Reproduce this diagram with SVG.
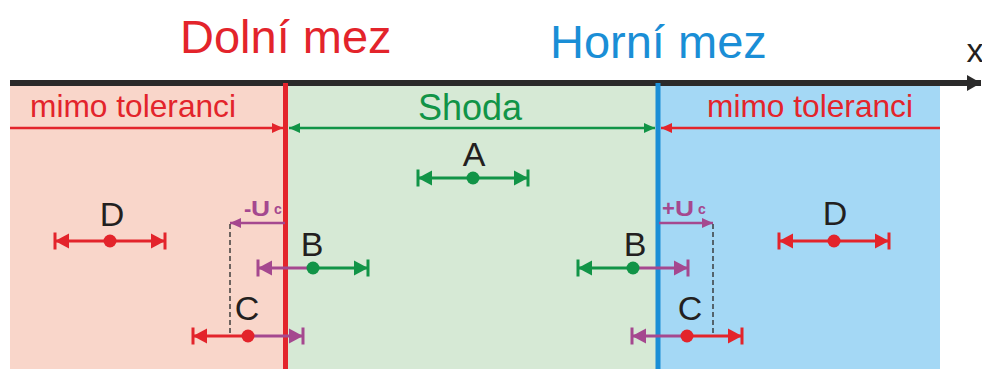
<svg xmlns="http://www.w3.org/2000/svg" width="982" height="369" viewBox="0 0 982 369">
  <style>
    text { font-family: "Liberation Sans", Arial, sans-serif; }
    .title { font-size: 47px; }
    .zone { font-size: 32px; fill: #e3242b; }
    .lbl { font-size: 34px; fill: #231f20; text-anchor: middle; }
    .unc { font-weight: bold; fill: #a5488f; font-size: 22px; }
    .sub { font-weight: bold; fill: #a5488f; font-size: 14px; }
    .bar { stroke-width: 3; fill: none; }
    .red { stroke: #e3242b; }
    .grn { stroke: #119447; }
    .pur { stroke: #a5488f; }
    .dash { stroke: #333; stroke-width: 1.4; stroke-dasharray: 5 3; fill: none; }
  </style>
  <defs>
    <!-- error-bar end: arrowhead with a stop bar at the tip -->
    <marker id="endR" markerUnits="userSpaceOnUse" viewBox="-16 -10 20 20" refX="0" refY="0" markerWidth="20" markerHeight="20" orient="auto">
      <path d="M0,0 L-14,-7.5 L-14,7.5 Z" fill="#e3242b"/>
      <rect x="-1.5" y="-8.5" width="3" height="17" fill="#e3242b"/>
    </marker>
    <marker id="endG" markerUnits="userSpaceOnUse" viewBox="-16 -10 20 20" refX="0" refY="0" markerWidth="20" markerHeight="20" orient="auto">
      <path d="M0,0 L-14,-7.5 L-14,7.5 Z" fill="#119447"/>
      <rect x="-1.5" y="-8.5" width="3" height="17" fill="#119447"/>
    </marker>
    <marker id="endP" markerUnits="userSpaceOnUse" viewBox="-16 -10 20 20" refX="0" refY="0" markerWidth="20" markerHeight="20" orient="auto">
      <path d="M0,0 L-14,-7.5 L-14,7.5 Z" fill="#a5488f"/>
      <rect x="-1.5" y="-8.5" width="3" height="17" fill="#a5488f"/>
    </marker>
    <!-- plain arrowheads -->
    <marker id="arR" markerUnits="userSpaceOnUse" viewBox="-12 -6 13 12" refX="0" refY="0" markerWidth="13" markerHeight="12" orient="auto-start-reverse">
      <path d="M0,0 L-11,-5 L-11,5 Z" fill="#e3242b"/>
    </marker>
    <marker id="arG" markerUnits="userSpaceOnUse" viewBox="-12 -6 13 12" refX="0" refY="0" markerWidth="13" markerHeight="12" orient="auto-start-reverse">
      <path d="M0,0 L-11,-5 L-11,5 Z" fill="#119447"/>
    </marker>
    <marker id="arP" markerUnits="userSpaceOnUse" viewBox="-12 -6 13 12" refX="0" refY="0" markerWidth="13" markerHeight="12" orient="auto-start-reverse">
      <path d="M0,0 L-11,-5 L-11,5 Z" fill="#a5488f"/>
    </marker>
    <marker id="arK" markerUnits="userSpaceOnUse" viewBox="-16 -9 17 18" refX="0" refY="0" markerWidth="17" markerHeight="18" orient="auto">
      <path d="M0,0 L-14,-8 L-14,8 Z" fill="#2b2a2a"/>
    </marker>
  </defs>

  <!-- zones -->
  <g id="zones">
    <rect x="10" y="86" width="276" height="283" fill="#f9d6ca"/>
    <rect x="286" y="86" width="372" height="283" fill="#d6e9d5"/>
    <rect x="658" y="86" width="282" height="283" fill="#a4d8f5"/>
  </g>

  <!-- titles -->
  <text id="lower-title" class="title" x="180" y="53" fill="#e3242b">Dolní mez</text>
  <text id="upper-title" class="title" x="550" y="58" fill="#1a8ed6">Horní mez</text>

  <!-- x axis -->
  <g id="axis">
    <line x1="10" y1="83" x2="981" y2="83" stroke="#2b2a2a" stroke-width="6" marker-end="url(#arK)"/>
    <text x="975" y="62" font-size="34" fill="#231f20" text-anchor="middle">x</text>
  </g>

  <!-- tolerance limits -->
  <g id="limits">
    <line x1="285.5" y1="83" x2="285.5" y2="369" stroke="#e3242b" stroke-width="5"/>
    <line x1="658" y1="83" x2="658" y2="369" stroke="#1a8ed6" stroke-width="5"/>
  </g>

  <!-- zone labels -->
  <g id="zone-labels">
    <text class="zone" x="30" y="117" textLength="206" lengthAdjust="spacingAndGlyphs">mimo toleranci</text>
    <text x="470" y="120" font-size="36" fill="#119447" text-anchor="middle">Shoda</text>
    <text class="zone" x="707" y="117" textLength="206" lengthAdjust="spacingAndGlyphs">mimo toleranci</text>
  </g>

  <g id="connectors">
    <!-- zone extent arrows -->
    <line x1="10" y1="128" x2="283" y2="128" stroke="#e3242b" stroke-width="2.5" marker-end="url(#arR)"/>
    <line x1="289" y1="128" x2="655" y2="128" stroke="#119447" stroke-width="2.5" marker-start="url(#arG)" marker-end="url(#arG)"/>
    <line x1="940" y1="128" x2="661" y2="128" stroke="#e3242b" stroke-width="2.5" marker-end="url(#arR)"/>
    <!-- expanded uncertainty offsets -->
    <line x1="285" y1="223" x2="230" y2="223" stroke="#a5488f" stroke-width="2.5" marker-end="url(#arP)"/>
    <line class="dash" x1="230" y1="224" x2="230" y2="335"/>
    <line x1="659" y1="223" x2="713" y2="223" stroke="#a5488f" stroke-width="2.5" marker-end="url(#arP)"/>
    <line class="dash" x1="713" y1="224" x2="713" y2="335"/>
  </g>

  <!-- uncertainty labels -->
  <g id="label-minus-uc">
    <text class="unc" x="244" y="216">-</text>
    <text class="unc" transform="translate(251,216) scale(1.2,1)">U</text>
    <text class="sub" x="274" y="214">c</text>
  </g>
  <g id="label-plus-uc">
    <text class="unc" x="662" y="216">+</text>
    <text class="unc" transform="translate(675,216) scale(1.2,1)">U</text>
    <text class="sub" x="698" y="214">c</text>
  </g>

  <!-- measurement A -->
  <g id="meas-A">
    <text class="lbl" x="474" y="166">A</text>
    <line class="bar grn" x1="473" y1="178" x2="418" y2="178" marker-end="url(#endG)"/>
    <line class="bar grn" x1="473" y1="178" x2="528" y2="178" marker-end="url(#endG)"/>
    <circle cx="473" cy="178" r="6.5" fill="#119447"/>
  </g>

  <!-- measurement D, below lower limit -->
  <g id="meas-D-low">
    <text class="lbl" x="112" y="226">D</text>
    <line class="bar red" x1="110" y1="241" x2="55" y2="241" marker-end="url(#endR)"/>
    <line class="bar red" x1="110" y1="241" x2="165" y2="241" marker-end="url(#endR)"/>
    <circle cx="110" cy="241" r="6.5" fill="#e3242b"/>
  </g>

  <!-- measurement D, above upper limit -->
  <g id="meas-D-high">
    <text class="lbl" x="835" y="225">D</text>
    <line class="bar red" x1="834" y1="241" x2="779" y2="241" marker-end="url(#endR)"/>
    <line class="bar red" x1="834" y1="241" x2="889" y2="241" marker-end="url(#endR)"/>
    <circle cx="834" cy="241" r="6.5" fill="#e3242b"/>
  </g>

  <!-- measurement B near lower limit -->
  <g id="meas-B-low">
    <text class="lbl" x="312" y="256">B</text>
    <line class="bar pur" x1="313" y1="268" x2="258" y2="268" marker-end="url(#endP)"/>
    <line class="bar grn" x1="313" y1="268" x2="368" y2="268" marker-end="url(#endG)"/>
    <circle cx="313" cy="268" r="6.5" fill="#119447"/>
  </g>

  <!-- measurement C near lower limit -->
  <g id="meas-C-low">
    <text class="lbl" x="247" y="320">C</text>
    <line class="bar red" x1="248" y1="336" x2="193" y2="336" marker-end="url(#endR)"/>
    <line class="bar pur" x1="248" y1="336" x2="303" y2="336" marker-end="url(#endP)"/>
    <circle cx="248" cy="336" r="6.5" fill="#e3242b"/>
  </g>

  <!-- measurement B near upper limit -->
  <g id="meas-B-high">
    <text class="lbl" x="635" y="256">B</text>
    <line class="bar grn" x1="633" y1="268" x2="578" y2="268" marker-end="url(#endG)"/>
    <line class="bar pur" x1="633" y1="268" x2="688" y2="268" marker-end="url(#endP)"/>
    <circle cx="633" cy="268" r="6.5" fill="#119447"/>
  </g>

  <!-- measurement C near upper limit -->
  <g id="meas-C-high">
    <text class="lbl" x="690" y="320">C</text>
    <line class="bar pur" x1="687" y1="336" x2="632" y2="336" marker-end="url(#endP)"/>
    <line class="bar red" x1="687" y1="336" x2="742" y2="336" marker-end="url(#endR)"/>
    <circle cx="687" cy="336" r="6.5" fill="#e3242b"/>
  </g>
</svg>
